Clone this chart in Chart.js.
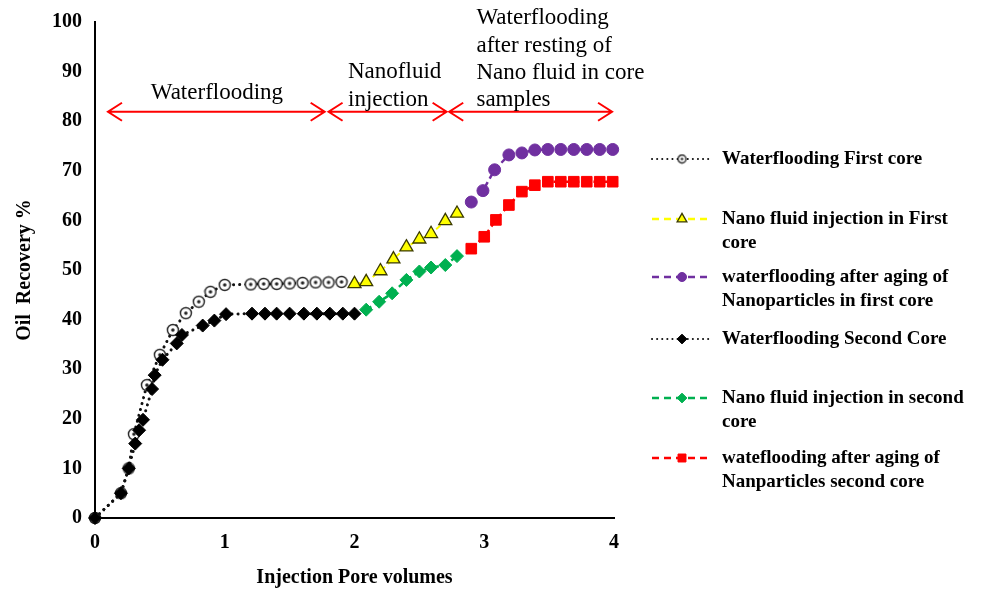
<!DOCTYPE html>
<html lang="en">
<head>
<meta charset="utf-8">
<title>Oil Recovery vs Injection Pore Volumes</title>
<script src="https://cdn.jsdelivr.net/npm/chart.js@4.4.1/dist/chart.umd.min.js"></script>
<style>
  * { margin: 0; padding: 0; }
  body { background: #fff; }
  #wrap { width: 987px; height: 592px; position: relative; }
</style>
</head>
<body>
<div id="wrap"><canvas id="chart"></canvas></div>
<script>
// --- data ---
const wf1X = [0, 0.2, 0.26, 0.30, 0.40, 0.50, 0.60, 0.70, 0.80, 0.89, 1.00, 1.20, 1.30, 1.40, 1.50, 1.60, 1.70, 1.80, 1.90];
const wf1Y = [0, 5, 10, 16.9, 26.8, 32.9, 37.9, 41.3, 43.6, 45.6, 47.0, 47.1, 47.2, 47.2, 47.3, 47.4, 47.5, 47.5, 47.6];

const nano1X = [2.0, 2.09, 2.2, 2.3, 2.4, 2.5, 2.59, 2.7, 2.79];
const nano1Y = [47.2, 47.6, 49.8, 52.2, 54.6, 56.2, 57.3, 59.9, 61.4];

const after1X = [2.9, 2.99, 3.08, 3.19, 3.29, 3.39, 3.49, 3.59, 3.69, 3.79, 3.89, 3.99];
const after1Y = [63.7, 66.0, 70.2, 73.2, 73.6, 74.2, 74.3, 74.3, 74.3, 74.3, 74.3, 74.3];

const wf2X = [0, 0.2, 0.26, 0.31, 0.34, 0.37, 0.44, 0.46, 0.52, 0.63, 0.67, 0.83, 0.92, 1.01, 1.21, 1.31, 1.40, 1.50, 1.61, 1.71, 1.81, 1.91, 2.0];
const wf2Y = [0, 5, 10, 15, 17.7, 19.8, 26, 28.8, 31.9, 35.2, 36.9, 38.8, 39.8, 41.1, 41.2, 41.2, 41.2, 41.2, 41.2, 41.2, 41.2, 41.2, 41.2];

const nano2X = [2.09, 2.19, 2.29, 2.40, 2.50, 2.59, 2.70, 2.79];
const nano2Y = [42.0, 43.6, 45.3, 48.0, 49.7, 50.5, 51.0, 52.8];

const after2X = [2.9, 3.0, 3.09, 3.19, 3.29, 3.39, 3.49, 3.59, 3.69, 3.79, 3.89, 3.99];
const after2Y = [54.3, 56.7, 60.1, 63.1, 65.8, 67.1, 67.8, 67.8, 67.8, 67.8, 67.8, 67.8];

const seriesNames = [
  ['Waterflooding First core'],
  ['Nano fluid injection in First', 'core'],
  ['waterflooding after aging of', 'Nanoparticles in first core'],
  ['Waterflooding Second Core'],
  ['Nano fluid injection in second', 'core'],
  ['wateflooding after aging of', 'Nanparticles second core']
];

// phase arrows (x from / to) at a recovery level, and their captions
const arrowLevel = 81.9;
const phaseArrows = [[0.10, 1.77], [1.80, 2.71], [2.73, 3.985]];
const phaseLabels = [
  { x: 0.43, y: [85.7], text: ['Waterflooding'] },
  { x: 1.95, y: [89.9, 84.3], text: ['Nanofluid', 'injection'] },
  { x: 2.94, y: [100.8, 95.2, 89.7, 84.3], text: ['Waterflooding', 'after resting of', 'Nano fluid in core', 'samples'] }
];

const serif = '"Times New Roman", "Liberation Serif", serif';

function ringDot(r) {
  const c = document.createElement('canvas');
  const s = Math.ceil(r * 2 + 3);
  c.width = s; c.height = s;
  const g = c.getContext('2d');
  g.beginPath(); g.arc(s / 2, s / 2, r, 0, Math.PI * 2);
  g.fillStyle = '#fff'; g.fill();
  g.lineWidth = 1.4; g.strokeStyle = '#222'; g.stroke();
  g.beginPath(); g.arc(s / 2, s / 2, r * 0.32, 0, Math.PI * 2);
  g.fillStyle = '#222'; g.fill();
  return c;
}

const zip = (xs, ys) => xs.map((x, i) => ({ x: x, y: ys[i] }));
const dotted = [0.1, 6];
const dashed = [6, 4];

const datasets = [
  { data: zip(wf1X, wf1Y), borderColor: '#111', borderWidth: 3, borderDash: dotted, borderCapStyle: 'round',
    pointStyle: ringDot(5.5), pointRadius: 5.5, order: 2, legendStyle: ringDot(4) },
  { data: zip(nano1X, nano1Y), borderColor: '#ffff00', borderWidth: 2, borderDash: dashed,
    pointStyle: 'triangle', pointRadius: 7.5, pointBackgroundColor: '#ffff00', pointBorderColor: '#3a3a00', pointBorderWidth: 1.3, order: 1 },
  { data: zip(after1X, after1Y), borderColor: '#7030a0', borderWidth: 2.5, borderDash: dashed,
    pointStyle: 'circle', pointRadius: 6, pointBackgroundColor: '#7030a0', pointBorderColor: '#7030a0', pointBorderWidth: 1, order: 1 },
  { data: zip(wf2X, wf2Y), borderColor: '#111', borderWidth: 3, borderDash: dotted, borderCapStyle: 'round',
    pointStyle: 'rectRot', pointRadius: 6.5, pointBackgroundColor: '#000', pointBorderColor: '#000', pointBorderWidth: 1, order: 0 },
  { data: zip(nano2X, nano2Y), borderColor: '#00b050', borderWidth: 2.5, borderDash: dashed,
    pointStyle: 'rectRot', pointRadius: 6.5, pointBackgroundColor: '#00b050', pointBorderColor: '#00b050', pointBorderWidth: 1, order: 1 },
  { data: zip(after2X, after2Y), borderColor: '#ff0000', borderWidth: 2.5, borderDash: dashed,
    pointStyle: 'rect', pointRadius: 7.5, pointBackgroundColor: '#ff0000', pointBorderColor: '#ff0000', pointBorderWidth: 1, order: 1 }
];
datasets.forEach((d, i) => { d.label = seriesNames[i].join(' '); d.tension = 0; d.fill = false; d.clip = false; });

// legend layout on the right side
const legendTops = [159, 219, 277, 339, 398, 458];

function drawMarker(ctx, ds, x, y) {
  const r = ds.pointRadius * 0.75;
  ctx.save();
  ctx.fillStyle = ds.pointBackgroundColor || '#000';
  ctx.strokeStyle = ds.pointBorderColor || '#000';
  ctx.lineWidth = ds.pointBorderWidth || 1;
  ctx.setLineDash([]);
  ctx.beginPath();
  if (ds.legendStyle) {
    const img = ds.legendStyle;
    ctx.drawImage(img, x - img.width / 2, y - img.height / 2);
    ctx.restore();
    return;
  } else if (ds.pointStyle === 'circle') {
    ctx.arc(x, y, r, 0, Math.PI * 2);
  } else if (ds.pointStyle === 'triangle') {
    ctx.moveTo(x, y - r);
    ctx.lineTo(x + r * 0.866, y + r * 0.5);
    ctx.lineTo(x - r * 0.866, y + r * 0.5);
    ctx.closePath();
  } else if (ds.pointStyle === 'rectRot') {
    ctx.moveTo(x, y - r); ctx.lineTo(x + r, y); ctx.lineTo(x, y + r); ctx.lineTo(x - r, y);
    ctx.closePath();
  } else {
    const h = r * 0.707;
    ctx.rect(x - h, y - h, 2 * h, 2 * h);
  }
  ctx.fill();
  ctx.stroke();
  ctx.restore();
}

const sideLegend = {
  id: 'sideLegend',
  afterDraw(chart) {
    const ctx = chart.ctx;
    ctx.save();
    chart.data.datasets.forEach((ds, i) => {
      const top = legendTops[i];
      ctx.save();
      ctx.strokeStyle = ds.borderColor;
      ctx.lineWidth = ds.borderDash === dotted ? 2 : 2.5;
      ctx.setLineDash(ds.borderDash === dotted ? [0.1, 5] : [7, 5]);
      ctx.lineCap = ds.borderCapStyle || 'butt';
      ctx.beginPath(); ctx.moveTo(652, top); ctx.lineTo(712, top); ctx.stroke();
      ctx.restore();
      drawMarker(ctx, ds, 682, top);
      ctx.font = 'bold 19px ' + serif;
      ctx.fillStyle = '#000';
      ctx.textBaseline = 'middle';
      ctx.textAlign = 'left';
      seriesNames[i].forEach((line, j) => ctx.fillText(line, 722, top + j * 24));
    });
    ctx.restore();
  }
};

const phases = {
  id: 'phases',
  afterDraw(chart) {
    const { ctx, scales: { x, y } } = chart;
    ctx.save();
    ctx.strokeStyle = '#ff0000';
    ctx.lineWidth = 2;
    const py = y.getPixelForValue(arrowLevel);
    phaseArrows.forEach(([a, b]) => {
      const x1 = x.getPixelForValue(a), x2 = x.getPixelForValue(b);
      ctx.beginPath();
      ctx.moveTo(x1, py); ctx.lineTo(x2, py);
      ctx.moveTo(x1 + 14, py - 9); ctx.lineTo(x1, py); ctx.lineTo(x1 + 14, py + 9);
      ctx.moveTo(x2 - 14, py - 9); ctx.lineTo(x2, py); ctx.lineTo(x2 - 14, py + 9);
      ctx.stroke();
    });
    ctx.font = '23px ' + serif;
    ctx.fillStyle = '#000';
    ctx.textBaseline = 'middle';
    ctx.textAlign = 'left';
    phaseLabels.forEach(l => {
      l.text.forEach((t, j) => ctx.fillText(t, x.getPixelForValue(l.x), y.getPixelForValue(l.y[j])));
    });
    ctx.restore();
  }
};

new Chart(document.getElementById('chart'), {
  type: 'line',
  data: { datasets: datasets },
  options: {
    responsive: true,
    maintainAspectRatio: false,
    animation: false,
    layout: { padding: { top: 22, right: 373, left: 0, bottom: 0 } },
    plugins: { legend: { display: false }, tooltip: { enabled: false } },
    scales: {
      x: {
        type: 'linear', min: 0, max: 4,
        grid: { display: false, drawTicks: false },
        border: { display: true, color: '#000', width: 2 },
        ticks: { stepSize: 1, padding: 13, color: '#000', font: { family: serif, size: 20, weight: 'bold' } },
        title: { display: true, text: 'Injection Pore volumes', color: '#000',
                 font: { family: serif, size: 20, weight: 'bold' }, padding: { top: 0, bottom: 2 } },
        afterFit(scale) { scale.height = 74; scale.paddingLeft = 0; scale.paddingRight = 0; }
      },
      y: {
        min: 0, max: 100,
        grid: { display: false, drawTicks: false },
        border: { display: true, color: '#000', width: 2 },
        ticks: { stepSize: 10, padding: 13, color: '#000', font: { family: serif, size: 20, weight: 'bold' } },
        title: { display: true, text: 'Oil  Recovery %', color: '#000',
                 font: { family: serif, size: 20, weight: 'bold' }, padding: { top: 13, bottom: 0 } },
        afterFit(scale) { scale.width = 95; scale.paddingTop = 0; scale.paddingBottom = 0; }
      }
    }
  },
  plugins: [phases, sideLegend]
});
</script>
</body>
</html>
